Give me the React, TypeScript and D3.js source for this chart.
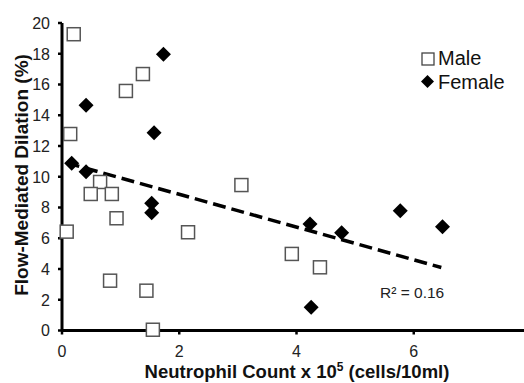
import React from "react";
import * as d3 from "d3";

const maleX = [0.2, 0.14, 1.09, 1.38, 0.65, 0.49, 0.85, 0.93, 0.08, 2.15, 0.82, 1.44, 1.55, 3.06, 3.92, 4.4];
const maleY = [19.27, 12.78, 15.58, 16.68, 9.66, 8.88, 8.88, 7.3, 6.43, 6.39, 3.24, 2.59, 0.05, 9.46, 4.98, 4.11];
const femaleX = [1.73, 0.41, 1.57, 0.165, 0.41, 1.53, 1.53, 4.23, 4.77, 5.77, 6.49, 4.25];
const femaleY = [17.96, 14.65, 12.86, 10.87, 10.33, 8.27, 7.66, 6.93, 6.36, 7.79, 6.75, 1.51];
const trendX = [0.08, 6.47];
const trendY = [10.9, 4.1];
const xTicks = [0, 2, 4, 6];
const yTicks = [0, 2, 4, 6, 8, 10, 12, 14, 16, 18, 20];
const rSquaredLabel = "R² = 0.16";
const legendLabels = ["Male", "Female"];

const W = 524;
const H = 383;
const FONT = "'Liberation Sans', Arial, sans-serif";

export default function App() {
  const x = d3.scaleLinear().domain([0, 8]).range([62, 531]);
  const y = d3.scaleLinear().domain([0, 20]).range([330.5, 23]);
  const line = d3
    .line<number>()
    .x((d) => x(trendX[d]))
    .y((d) => y(trendY[d]));
  const diamond = (cx: number, cy: number, r: number) =>
    `M${cx},${cy - r}L${cx + r},${cy}L${cx},${cy + r}L${cx - r},${cy}Z`;

  return (
    <svg
      width={W}
      height={H}
      style={{ position: "absolute", left: 0, top: 0, background: "#fff" }}
      fontFamily={FONT}
    >
      <rect x={0} y={0} width={W} height={H} fill="#fff" />
      <path
        d={line([0, 1]) || ""}
        fill="none"
        stroke="#000"
        strokeWidth={3.5}
        strokeDasharray="13,6"
      />
      <line x1={x(0)} x2={W + 10} y1={y(0)} y2={y(0)} stroke="#000" strokeWidth={3} />
      <line x1={x(0)} x2={x(0)} y1={y(20)} y2={y(0)} stroke="#000" strokeWidth={3} />
      {yTicks.map((t) => (
        <g key={"y" + t}>
          <line x1={x(0) - 4} x2={x(0)} y1={y(t)} y2={y(t)} stroke="#000" strokeWidth={2.5} />
          <text x={50} y={y(t)} dy="0.36em" textAnchor="end" fontSize={16} fill="#222">
            {t}
          </text>
        </g>
      ))}
      {xTicks.map((t) => (
        <g key={"x" + t}>
          <line x1={x(t)} x2={x(t)} y1={y(0)} y2={y(0) + 4} stroke="#000" strokeWidth={2.5} />
          <text x={x(t)} y={356.5} textAnchor="middle" fontSize={16} fill="#222">
            {t}
          </text>
        </g>
      ))}
      {maleX.map((v, i) => (
        <rect
          key={"m" + i}
          x={x(v) - 6.5}
          y={y(maleY[i]) - 6.5}
          width={13}
          height={13}
          fill="#fff"
          stroke="#555"
          strokeWidth={1.5}
        />
      ))}
      {femaleX.map((v, i) => (
        <path key={"f" + i} d={diamond(x(v), y(femaleY[i]), 7.5)} fill="#000" />
      ))}
      <text x={380} y={298} fontSize={15.5} fill="#222">
        {rSquaredLabel}
      </text>
      <rect x={422} y={53} width={12} height={12} fill="#fff" stroke="#444" strokeWidth={1.3} />
      <text x={438} y={64.5} fontSize={20} fill="#111">
        {legendLabels[0]}
      </text>
      <path d={diamond(427.5, 81.5, 6.5)} fill="#000" />
      <text x={438} y={88.5} fontSize={20} fill="#111">
        {legendLabels[1]}
      </text>
      <text x={297} y={378} textAnchor="middle" fontSize={18.5} fontWeight="bold" fill="#111">
        Neutrophil Count x 10
        <tspan fontSize={12} dy={-7}>5</tspan>
        <tspan dy={7}> (cells/10ml)</tspan>
      </text>
      <text
        transform={`translate(28,175) rotate(-90)`}
        textAnchor="middle"
        fontSize={19}
        fontWeight="bold"
        fill="#111"
      >
        Flow-Mediated Dilation (%)
      </text>
    </svg>
  );
}
